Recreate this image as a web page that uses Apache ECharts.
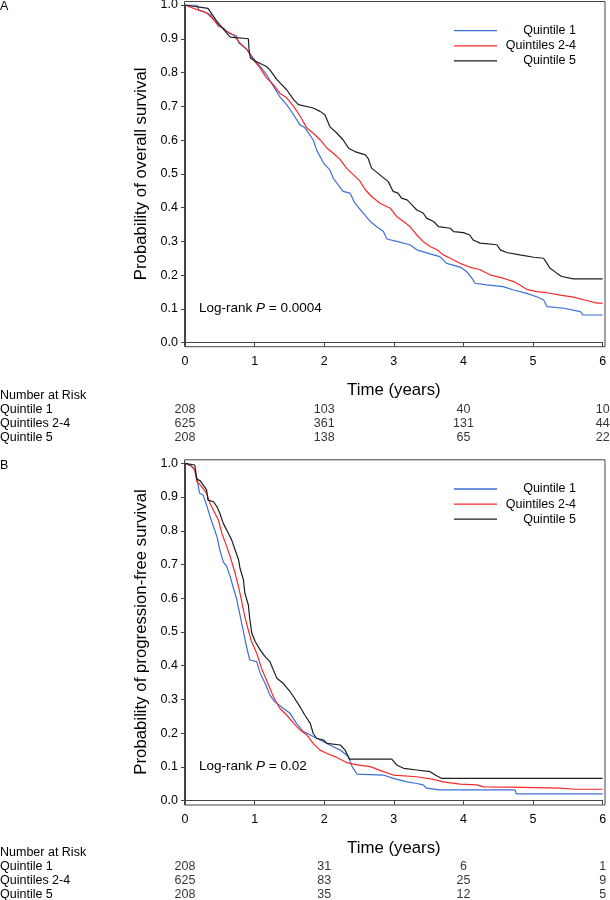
<!DOCTYPE html>
<html>
<head>
<meta charset="utf-8">
<script src="https://cdn.jsdelivr.net/npm/echarts@6/dist/echarts.min.js"></script>
<style>
html,body{margin:0;padding:0;background:#fff;}
#chart{width:610px;height:900px;}
</style>
</head>
<body>
<div id="chart"></div>
<script>
// ---------- data ----------
const groupNames = ['Quintile 1', 'Quintiles 2-4', 'Quintile 5'];
const xTicks = [0, 1, 2, 3, 4, 5, 6];
const riskTimes = [0, 2, 4, 6];

// Overall survival (panel A): [time (years), probability]
const osQ1 = [[0,1],[0.17,1],[0.2,0.985],[0.26,0.981],[0.36,0.972],[0.43,0.952],[0.48,0.937],[0.55,0.932],[0.60,0.922],[0.65,0.915],[0.74,0.909],[0.77,0.888],[0.89,0.868],[0.98,0.843],[1.08,0.818],[1.17,0.794],[1.27,0.759],[1.36,0.729],[1.46,0.705],[1.56,0.675],[1.65,0.645],[1.72,0.637],[1.84,0.601],[1.89,0.571],[1.99,0.532],[2.08,0.512],[2.13,0.487],[2.27,0.448],[2.37,0.443],[2.44,0.413],[2.56,0.384],[2.66,0.359],[2.75,0.344],[2.85,0.329],[2.90,0.307],[3.04,0.300],[3.23,0.290],[3.33,0.275],[3.52,0.263],[3.66,0.255],[3.76,0.235],[3.95,0.224],[4.05,0.210],[4.12,0.191],[4.17,0.176],[4.33,0.171],[4.57,0.166],[4.72,0.156],[4.91,0.146],[5.05,0.136],[5.15,0.127],[5.20,0.107],[5.44,0.102],[5.68,0.092],[5.72,0.082],[6.0,0.082]];
const osQ24 = [[0,1],[0.19,0.985],[0.31,0.977],[0.41,0.957],[0.50,0.937],[0.60,0.922],[0.69,0.912],[0.79,0.888],[0.89,0.868],[0.98,0.838],[1.08,0.813],[1.17,0.784],[1.27,0.764],[1.36,0.739],[1.46,0.725],[1.56,0.700],[1.65,0.672],[1.75,0.636],[1.84,0.621],[1.94,0.601],[2.04,0.576],[2.13,0.561],[2.23,0.542],[2.32,0.517],[2.42,0.497],[2.51,0.479],[2.59,0.453],[2.68,0.433],[2.80,0.413],[2.95,0.398],[3.04,0.374],[3.14,0.359],[3.23,0.344],[3.33,0.319],[3.42,0.300],[3.52,0.285],[3.62,0.275],[3.71,0.260],[3.81,0.250],[3.95,0.235],[4.09,0.224],[4.24,0.216],[4.38,0.201],[4.57,0.191],[4.72,0.181],[4.81,0.171],[4.91,0.158],[5.05,0.151],[5.20,0.148],[5.39,0.141],[5.58,0.135],[5.77,0.125],[5.92,0.117],[6.0,0.117]];
const osQ5 = [[0,1],[0.16,0.995],[0.33,0.99],[0.455,0.952],[0.60,0.917],[0.65,0.905],[0.91,0.900],[0.92,0.868],[0.94,0.843],[1.00,0.835],[1.17,0.818],[1.22,0.808],[1.32,0.779],[1.46,0.749],[1.56,0.720],[1.63,0.705],[1.84,0.695],[1.94,0.685],[2.01,0.675],[2.08,0.640],[2.18,0.621],[2.27,0.601],[2.35,0.576],[2.44,0.566],[2.59,0.556],[2.63,0.546],[2.68,0.517],[2.80,0.497],[2.92,0.477],[2.99,0.448],[3.06,0.443],[3.11,0.428],[3.19,0.423],[3.26,0.408],[3.33,0.393],[3.42,0.384],[3.47,0.369],[3.57,0.359],[3.64,0.344],[3.81,0.339],[3.86,0.329],[4.00,0.326],[4.09,0.319],[4.14,0.304],[4.24,0.295],[4.48,0.290],[4.53,0.275],[4.62,0.267],[4.81,0.260],[5.01,0.253],[5.15,0.250],[5.20,0.235],[5.24,0.221],[5.34,0.206],[5.41,0.196],[5.58,0.189],[6.0,0.189]];

// Progression-free survival (panel B)
const pfsQ1 = [[0,1],[0.10,0.99],[0.14,0.98],[0.17,0.956],[0.21,0.911],[0.26,0.906],[0.31,0.876],[0.36,0.842],[0.41,0.812],[0.46,0.782],[0.50,0.743],[0.55,0.708],[0.60,0.694],[0.65,0.664],[0.69,0.634],[0.74,0.600],[0.79,0.550],[0.83,0.510],[0.88,0.460],[0.93,0.417],[1.03,0.412],[1.08,0.378],[1.15,0.348],[1.22,0.313],[1.29,0.293],[1.41,0.274],[1.51,0.259],[1.60,0.229],[1.70,0.205],[1.80,0.195],[1.89,0.185],[1.99,0.175],[2.08,0.165],[2.23,0.150],[2.35,0.130],[2.40,0.101],[2.47,0.079],[2.85,0.076],[2.99,0.066],[3.19,0.056],[3.33,0.051],[3.42,0.047],[3.47,0.037],[3.66,0.032],[4.74,0.032],[4.76,0.020],[6.0,0.020]];
const pfsQ24 = [[0,1],[0.08,0.995],[0.14,0.98],[0.17,0.946],[0.24,0.931],[0.31,0.911],[0.36,0.881],[0.43,0.852],[0.48,0.832],[0.53,0.792],[0.60,0.753],[0.65,0.723],[0.72,0.674],[0.77,0.634],[0.81,0.595],[0.86,0.545],[0.91,0.506],[0.95,0.475],[1.03,0.437],[1.10,0.392],[1.17,0.358],[1.27,0.308],[1.36,0.274],[1.46,0.254],[1.56,0.229],[1.65,0.210],[1.75,0.195],[1.84,0.170],[1.94,0.150],[2.04,0.140],[2.16,0.130],[2.32,0.113],[2.47,0.106],[2.66,0.101],[2.85,0.086],[2.99,0.076],[3.33,0.071],[3.57,0.063],[3.71,0.056],[3.95,0.049],[4.19,0.047],[4.29,0.041],[4.67,0.040],[5.39,0.037],[5.60,0.034],[6.0,0.034]];
const pfsQ5 = [[0,1],[0.14,0.995],[0.17,0.953],[0.22,0.948],[0.26,0.936],[0.31,0.921],[0.33,0.891],[0.41,0.886],[0.46,0.871],[0.50,0.852],[0.55,0.822],[0.60,0.802],[0.67,0.773],[0.72,0.743],[0.77,0.714],[0.79,0.689],[0.84,0.654],[0.86,0.615],[0.91,0.580],[0.93,0.540],[0.96,0.496],[1.01,0.471],[1.08,0.447],[1.15,0.427],[1.22,0.412],[1.27,0.387],[1.32,0.363],[1.41,0.348],[1.51,0.323],[1.56,0.308],[1.65,0.279],[1.72,0.254],[1.80,0.229],[1.84,0.200],[1.89,0.185],[1.99,0.180],[2.04,0.170],[2.23,0.165],[2.30,0.150],[2.36,0.123],[2.97,0.123],[3.04,0.106],[3.14,0.096],[3.33,0.091],[3.52,0.086],[3.62,0.073],[3.69,0.066],[6.0,0.066]];

// Number at risk
const osRiskQ1 = [208, 103, 40, 10];
const osRiskQ24 = [625, 361, 131, 44];
const osRiskQ5 = [208, 138, 65, 22];
const pfsRiskQ1 = [208, 31, 6, 1];
const pfsRiskQ24 = [625, 83, 25, 9];
const pfsRiskQ5 = [208, 35, 12, 5];

const colors = ['#3d6fd6', '#f72a2a', '#1e1e1e'];
const FONT = 'Liberation Sans, Arial, Helvetica, sans-serif';

// ---------- layout ----------
const L = 185, W = 417.7;
const panels = [
  { top: 5, h: 337.7, riskTop: 402.8, riskH: 41.4, yName: 'Probability of overall survival',
    curves: [osQ1, osQ24, osQ5], risk: [osRiskQ1, osRiskQ24, osRiskQ5], p: '0.0004', letter: 'A' },
  { top: 463.3, h: 337.4, riskTop: 860.0, riskH: 42.0, yName: 'Probability of progression-free survival',
    curves: [pfsQ1, pfsQ24, pfsQ5], risk: [pfsRiskQ1, pfsRiskQ24, pfsRiskQ5], p: '0.02', letter: 'B' }
];

const grid = [], xAxis = [], yAxis = [], series = [], legend = [], graphic = [];
panels.forEach((pn, i) => {
  const gMain = grid.length;
  grid.push({ left: L, top: pn.top, width: W, height: pn.h, outerBoundsMode: 'none', containLabel: false });
  const gRisk = grid.length;
  grid.push({ left: L, top: pn.riskTop, width: W, height: pn.riskH, outerBoundsMode: 'none', containLabel: false });

  xAxis.push({
    gridIndex: gMain, type: 'value', min: 0, max: 6, interval: 1, offset: 4,
    axisLine: { show: true, lineStyle: { color: '#444', width: 1 } },
    axisTick: { show: true, length: 4, lineStyle: { color: '#444' } },
    splitLine: { show: false },
    axisLabel: { fontSize: 12.5, fontFamily: FONT, color: '#000', margin: 8 },
    name: 'Time (years)', nameLocation: 'middle', nameGap: 35,
    nameTextStyle: { fontSize: 16.8, fontFamily: FONT, color: '#000' }
  });
  xAxis.push({ gridIndex: gRisk, type: 'value', min: 0, max: 6, show: false });

  yAxis.push({
    gridIndex: gMain, type: 'value', min: 0, max: 1, interval: 0.1, offset: 1,
    axisLine: { show: true, lineStyle: { color: '#444', width: 1 } },
    axisTick: { show: true, length: 4, lineStyle: { color: '#444' } },
    splitLine: { show: false },
    axisLabel: { fontSize: 12.5, fontFamily: FONT, color: '#000', margin: 6, formatter: v => v.toFixed(1) },
    name: pn.yName, nameLocation: 'middle', nameGap: 34.5,
    nameTextStyle: { fontSize: 16.8, fontFamily: FONT, color: '#000' }
  });
  yAxis.push({
    gridIndex: gRisk, type: 'category', data: groupNames, inverse: true,
    axisLine: { show: false }, axisTick: { show: false }, splitLine: { show: false },
    axisLabel: { interval: 0, align: 'left', margin: L, fontSize: 12.5, fontFamily: FONT, color: '#000' }
  });

  pn.curves.forEach((c, k) => {
    series.push({
      name: groupNames[k], type: 'line', data: c,
      xAxisIndex: gMain, yAxisIndex: gMain, symbol: 'none', showSymbol: false,
      lineStyle: { color: colors[k], width: 1.2 }, itemStyle: { color: colors[k] },
      z: 3 + k, silent: true
    });
  });

  const riskData = [];
  pn.risk.forEach((arr, k) => arr.forEach((v, j) => riskData.push([riskTimes[j], groupNames[k], v])));
  series.push({
    name: 'risk' + i, type: 'scatter', data: riskData, xAxisIndex: gRisk, yAxisIndex: gRisk,
    symbol: 'circle', symbolSize: 1, itemStyle: { color: 'rgba(0,0,0,0)' }, silent: true,
    label: { show: true, position: 'inside', formatter: p => String(p.value[2]),
      fontSize: 12.5, fontFamily: FONT, color: '#000' }
  });

  legend.push({
    data: groupNames.map((n, k) => ({ name: n, icon: 'rect', itemStyle: { color: colors[k] } })),
    orient: 'vertical', left: 454, top: (i === 0 ? 24.2 : 482.5), padding: 0,
    itemWidth: 43, itemHeight: 1.3, itemGap: 2.1, selectedMode: false,
    formatter: '{a|{name}}',
    textStyle: { fontSize: 12.5, fontFamily: FONT, color: '#000', lineHeight: 13,
      rich: { a: { width: 74, align: 'right', fontSize: 12.5, fontFamily: FONT, color: '#000', lineHeight: 13 } } }
  });

  const off = i === 0 ? 0 : 458.3;
  graphic.push({
    type: 'rect', silent: true, z: 10,
    shape: { x: 184.5, y: 1.5 + off, width: 420.5, height: 345.2 },
    style: { fill: 'none', stroke: '#444', lineWidth: 1 }
  });
  graphic.push({
    type: 'text', silent: true, x: 0, y: 7 + off,
    style: { text: pn.letter, fontSize: 12.5, fontFamily: FONT, fill: '#000', verticalAlign: 'middle' }
  });
  graphic.push({
    type: 'text', silent: true, x: 0, y: 395.7 + (i === 0 ? 0 : 457.3),
    style: { text: 'Number at Risk', fontSize: 12.5, fontFamily: FONT, fill: '#000', verticalAlign: 'middle' }
  });
  graphic.push({
    type: 'text', silent: true, x: 199, y: (i === 0 ? 308.3 : 766),
    style: { text: 'Log-rank {i|P} = ' + pn.p, fontSize: 13.5, fontFamily: FONT, fill: '#000', verticalAlign: 'middle',
      rich: { i: { fontStyle: 'italic', fontSize: 13.5, fontFamily: FONT, fill: '#000' } } }
  });
});

const chart = echarts.init(document.getElementById('chart'), null, { renderer: 'canvas' });
chart.setOption({
  animation: false,
  backgroundColor: '#fff',
  textStyle: { fontFamily: FONT },
  grid, xAxis, yAxis, series, legend, graphic
});
</script>
</body>
</html>
